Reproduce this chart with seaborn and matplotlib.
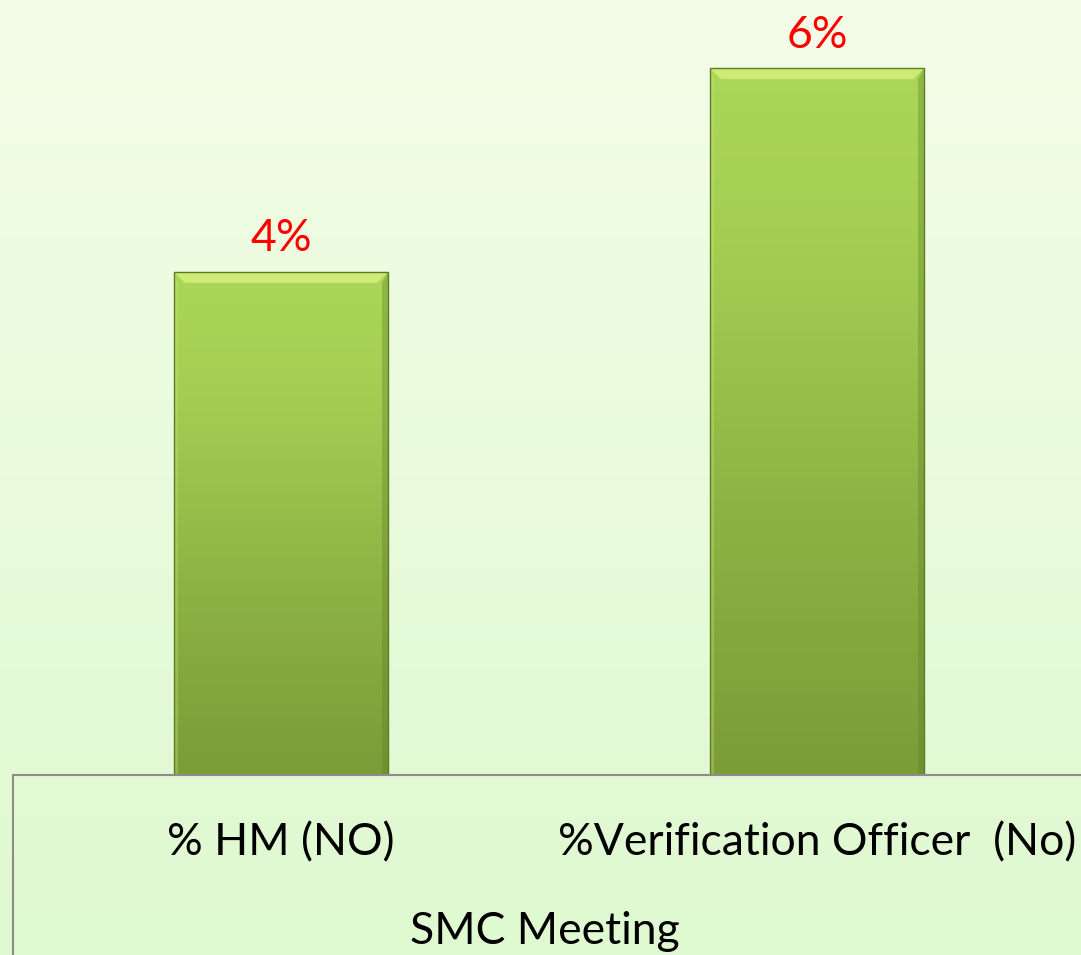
import numpy as np
import pandas as pd
import seaborn as sns
import matplotlib.pyplot as plt
from matplotlib.colors import LinearSegmentedColormap
from matplotlib.lines import Line2D
from matplotlib.patches import Polygon

# chart values
categories = ["% HM (NO)", "%Verification Officer  (No)"]
values = [4.2, 5.9]
value_labels = ["4%", "6%"]
axis_title = "SMC Meeting"

df = pd.DataFrame({"category": categories, "value": values})

sns.set_theme(style="white")
plt.rcParams["font.family"] = ["Lato", "DejaVu Sans"]

W, H = 1081, 955
fig = plt.figure(figsize=(W / 100, H / 100), dpi=100)

# soft green background gradient
bg = fig.add_axes([0, 0, 1, 1], zorder=0)
bg_cmap = LinearSegmentedColormap.from_list("bg", ["#F3FDE8", "#DFF9D0"])
bg.imshow(np.linspace(0, 1, 256).reshape(-1, 1), cmap=bg_cmap, aspect="auto",
          extent=[0, 1, 0, 1])
bg.set_axis_off()

# plot area: baseline at y=775px, left edge x=13px
left, right, base = 13, 1085, 775
ax = fig.add_axes([left / W, (H - base) / H, (right - left) / W, base / H], zorder=1)
ax.patch.set_alpha(0)

sns.barplot(data=df, x="category", y="value", width=0.4, color="#9CC84A",
            ax=ax, zorder=2)

ymax = base / 119.8
ax.set_xlim(-0.5, 1.5)
ax.set_ylim(0, ymax)
px_x = 2.0 / (right - left)   # data units per pixel
px_y = ymax / base

# vertical gradient inside bars with a simple bevel
bar_cmap = LinearSegmentedColormap.from_list(
    "bar", [(0, "#7B9C37"), (0.35, "#8CB143"), (0.75, "#A3CE52"), (1, "#ABD757")])
for p in ax.patches:
    x, w, h = p.get_x(), p.get_width(), p.get_height()
    grad = np.linspace(0, 1, 256).reshape(-1, 1)
    im = ax.imshow(grad, cmap=bar_cmap, aspect="auto",
                   extent=[x, x + w, 0, h], zorder=2.5, origin="lower")
    im.set_clip_path(p)
    bx, by = 11 * px_x, 11 * px_y
    # top bevel
    ax.add_patch(Polygon([(x, h), (x + w, h), (x + w - bx, h - by), (x + bx, h - by)],
                         closed=True, facecolor="#D2EE7A", edgecolor="none",
                         alpha=0.9, zorder=2.7))
    # right bevel
    ax.add_patch(Polygon([(x + w, h), (x + w, 0), (x + w - 6 * px_x, 0),
                          (x + w - 6 * px_x, h - by)],
                         closed=True, facecolor="#5E7E26", edgecolor="none",
                         alpha=0.35, zorder=2.7))
    # left bevel
    ax.add_patch(Polygon([(x, h), (x, 0), (x + 4 * px_x, 0), (x + 4 * px_x, h - by)],
                         closed=True, facecolor="#C6E672", edgecolor="none",
                         alpha=0.35, zorder=2.7))
    p.set_facecolor("none")
    p.set_edgecolor("#5F7C25")
    p.set_linewidth(1.0)
    p.set_zorder(3)

ax.set_xlim(-0.5, 1.5)
ax.set_ylim(0, ymax)

ax.bar_label(ax.containers[0], labels=value_labels, padding=9,
             color="#FF0000", fontsize=32)

for s in ["top", "right", "left"]:
    ax.spines[s].set_visible(False)
ax.spines["bottom"].set_color("#8C8C8C")
ax.spines["bottom"].set_linewidth(1.5)
ax.spines["bottom"].set_zorder(4)
ax.set_yticks([])
ax.set_ylabel("")
ax.tick_params(axis="x", length=0, pad=34, labelsize=32, labelcolor="black")

ax.set_xlabel(axis_title, fontsize=32, color="black")
ax.xaxis.set_label_coords((545 - left) / (right - left), -(931 - base) / base)
ax.xaxis.label.set_va("center")

# category table left border
fig.add_artist(Line2D([left / W, left / W], [0, (H - base) / H],
                      color="#8C8C8C", linewidth=1.5))

fig.savefig("out.png", dpi=100)
